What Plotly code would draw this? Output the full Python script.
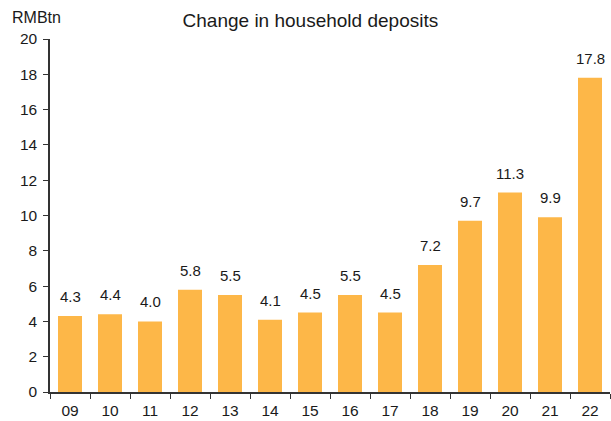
import plotly.graph_objects as go

years = ["09", "10", "11", "12", "13", "14", "15", "16", "17", "18", "19", "20", "21", "22"]
deposits = [4.3, 4.4, 4.0, 5.8, 5.5, 4.1, 4.5, 5.5, 4.5, 7.2, 9.7, 11.3, 9.9, 17.8]
y_ticks = [0, 2, 4, 6, 8, 10, 12, 14, 16, 18, 20]

BAR = "#FDB748"
TXT = "#1a1a1a"
AX = "#333333"
FONT = "Liberation Sans, Arial, sans-serif"

fig = go.Figure()
fig.add_trace(go.Bar(x=years, y=deposits, marker=dict(color=BAR, line=dict(width=0)),
                     width=0.6, hoverinfo="skip"))

for i, v in enumerate(deposits):
    fig.add_annotation(x=i, y=v, text=f"{v:.1f}", showarrow=False, yanchor="bottom",
                       yshift=9, font=dict(size=15, color=TXT, family=FONT))

fig.add_annotation(xref="paper", yref="paper", x=-0.072, y=1.0, yshift=22, text="RMBtn",
                   showarrow=False, xanchor="left", yanchor="middle",
                   font=dict(size=16, color=TXT, family=FONT))

fig.update_layout(
    width=611, height=421,
    margin=dict(l=50, r=1, t=39, b=29),
    paper_bgcolor="white", plot_bgcolor="white",
    showlegend=False,
    bargap=0.4,
    title=dict(text="Change in household deposits", x=0.508, xanchor="center",
               y=0.952, yanchor="middle", font=dict(size=19, color=TXT, family=FONT)),
    font=dict(family=FONT, color=TXT),
)
fig.update_xaxes(type="category", range=[-0.5, 13.5], showline=True, linecolor=AX, linewidth=1.5,
                 ticks="outside", tickson="boundaries", ticklen=5, tickcolor=AX, tickangle=0,
                 ticklabelstandoff=4,
                 tickfont=dict(size=15.5, color=TXT), showgrid=False, zeroline=False)
fig.update_yaxes(range=[0, 20], tickvals=y_ticks, showline=True, linecolor=AX, linewidth=1.5,
                 ticks="outside", ticklen=5, tickcolor=AX, tickfont=dict(size=15.5, color=TXT),
                 ticklabelstandoff=3, showgrid=False, zeroline=False)

fig.write_html("out.html", config={"displayModeBar": False},
               post_script="document.body.style.margin='0';document.body.style.overflow='hidden';")
